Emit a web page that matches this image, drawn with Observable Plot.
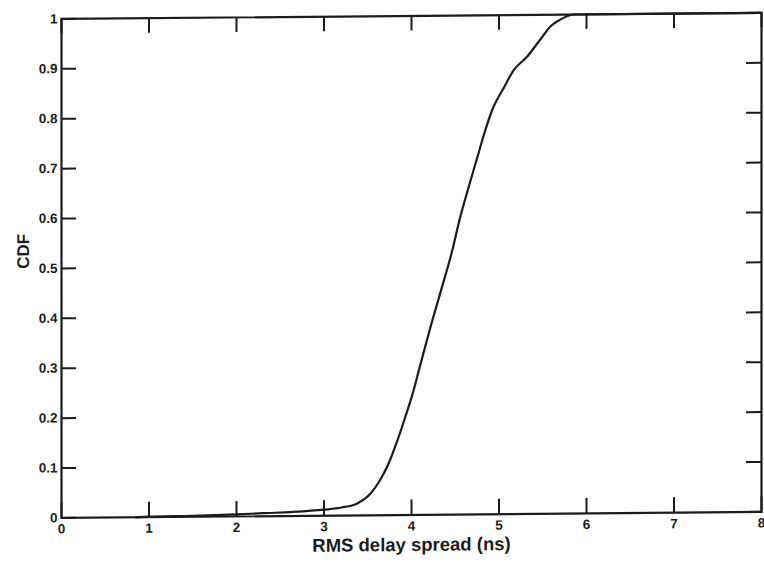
<!DOCTYPE html>
<html>
<head>
<meta charset="utf-8">
<script src="https://cdn.jsdelivr.net/npm/d3@7"></script>
<script src="https://cdn.jsdelivr.net/npm/@observablehq/plot@0.6"></script>
<style>
html, body { margin: 0; padding: 0; background: #fff; }
#chart svg { display: block; transform: skewY(-0.5deg); transform-origin: 0 0; }
</style>
</head>
<body>
<div id="chart"></div>
<script>
// RMS delay spread (ns) and CDF values
const rmsDelay = [0.85, 1.0, 1.5, 2.0, 2.3, 2.65, 3.0, 3.2, 3.38, 3.53, 3.64, 3.74, 3.84, 3.93, 4.0, 4.1, 4.22, 4.33, 4.46, 4.56, 4.67, 4.75, 4.83, 4.92, 5.06, 5.17, 5.32, 5.47, 5.59, 5.70, 5.86, 8.0];
const cdf      = [0.0, 0.001, 0.002, 0.004, 0.006, 0.008, 0.012, 0.016, 0.024, 0.043, 0.07, 0.104, 0.15, 0.197, 0.235, 0.30, 0.378, 0.445, 0.525, 0.598, 0.666, 0.714, 0.762, 0.809, 0.856, 0.890, 0.916, 0.950, 0.977, 0.990, 1.0, 1.0];

const xTicks = [0, 1, 2, 3, 4, 5, 6, 7, 8];
const yTicks = [0, 0.1, 0.2, 0.3, 0.4, 0.5, 0.6, 0.7, 0.8, 0.9, 1];
const yTickLabels = ["0", "0.1", "0.2", "0.3", "0.4", "0.5", "0.6", "0.7", "0.8", "0.9", "1"];
const xLabel = "RMS delay spread (ns)";
const yLabel = "CDF";

const data = rmsDelay.map((x, i) => ({x, y: cdf[i]}));

const W = 764, H = 564, mL = 61, mR = 3, mT = 19, mB = 46;
const innerW = W - mL - mR, innerH = H - mT - mB;
const ink = "#1c1c1c";
const tickLen = 15;
const font = "'Liberation Sans', Arial, sans-serif";

const chart = Plot.plot({
  width: W,
  height: H,
  marginLeft: mL,
  marginRight: mR,
  marginTop: mT,
  marginBottom: mB,
  style: {fontFamily: font, fontWeight: "bold", fontSize: "13.5px", color: ink, background: "#fff"},
  x: {domain: [0, 8]},
  y: {domain: [0, 1]},
  marks: [
    Plot.line(data, {x: "x", y: "y", stroke: ink, strokeWidth: 2.2, curve: "monotone-x"}),
    Plot.tickX(xTicks, {x: d => d, insetTop: innerH - tickLen, stroke: ink, strokeWidth: 2}),
    Plot.tickX(xTicks, {x: d => d, insetBottom: innerH - tickLen, stroke: ink, strokeWidth: 2}),
    Plot.tickY(yTicks, {y: d => d, insetRight: innerW - tickLen, stroke: ink, strokeWidth: 2}),
    Plot.tickY(yTicks, {y: d => d, insetLeft: innerW - tickLen, stroke: ink, strokeWidth: 2}),
    Plot.axisX(xTicks, {tickSize: 0, tickPadding: 6, tickFormat: d => String(d), label: null, fill: ink, fontSize: 13.5, fontWeight: "bold", fontFamily: font}),
    Plot.axisY(yTicks, {tickSize: 0, tickPadding: 4, tickFormat: (d, i) => yTickLabels[i], label: null, fill: ink, fontSize: 13.5, fontWeight: "bold", fontFamily: font}),
    Plot.text([xLabel], {frameAnchor: "bottom", dy: 36, fontSize: 18.5, fontWeight: "bold", fontFamily: font, fill: ink}),
    Plot.text([yLabel], {frameAnchor: "left", dx: -38, rotate: -90, fontSize: 17, fontWeight: "bold", fontFamily: font, fill: ink}),
    Plot.frame({stroke: ink, strokeWidth: 2.2})
  ]
});
document.getElementById("chart").appendChild(chart);
</script>
</body>
</html>
